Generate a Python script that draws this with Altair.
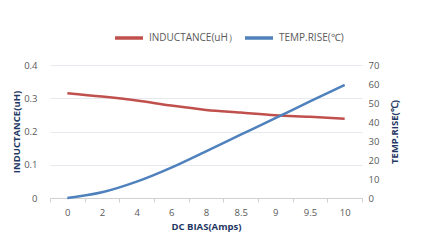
import altair as alt
import pandas as pd

bias = ["0", "2", "4", "6", "8", "8.5", "9", "9.5", "10"]
inductance = [0.315, 0.305, 0.293, 0.278, 0.265, 0.257, 0.249, 0.244, 0.238]
temp_rise = [0, 3, 8.6, 16, 24.6, 33.3, 42, 50.8, 59.5]
series = ["INDUCTANCE(uH）", "TEMP.RISE(℃)"]
colors = ["#c0504d", "#4f81bd"]

df = pd.DataFrame({"bias": bias, "ind": inductance, "temp": temp_rise})

FONT = "Open Sans"
label_color = "#595959"
title_color = "#1f3864"

color_scale = alt.Scale(domain=series, range=colors)

x_enc = alt.X(
    "bias:O",
    sort=bias,
    title="DC BIAS(Amps)",
    axis=alt.Axis(
        labelAngle=0,
        tickBand="extent",
        domainColor="#d0d0d0",
        tickColor="#d0d0d0",
        tickSize=4,
        labelPadding=5,
        labelColor=label_color,
        labelFont=FONT,
        labelFontSize=9.5,
        titleColor=title_color,
        titleFont=FONT,
        titleFontSize=9.5,
        titleFontWeight="bold",
        titlePadding=5,
        grid=False,
    ),
    scale=alt.Scale(paddingInner=0, paddingOuter=0),
)

base = alt.Chart(df)

ind_line = base.mark_line(interpolate="monotone", strokeWidth=2.5).encode(
    x=x_enc,
    y=alt.Y(
        "ind:Q",
        title="INDUCTANCE(uH)",
        scale=alt.Scale(domain=[0, 0.4]),
        axis=alt.Axis(
            values=[0, 0.1, 0.2, 0.3, 0.4],
            format="~g",
            domain=False,
            ticks=False,
            gridColor="#e6e9ed",
            labelColor=label_color,
            labelFont=FONT,
            labelFontSize=9.5,
            labelPadding=13,
            titleColor=title_color,
            titleFont=FONT,
            titleFontSize=9.5,
            titleFontWeight="bold",
            titlePadding=2,
        ),
    ),
    color=alt.Color("s:N", scale=color_scale, title=None),
).transform_calculate(s="'" + series[0] + "'")

temp_line = base.mark_line(interpolate="monotone", strokeWidth=2.5).encode(
    x=x_enc,
    y=alt.Y(
        "temp:Q",
        title="TEMP.RISE(℃)",
        scale=alt.Scale(domain=[0, 70]),
        axis=alt.Axis(
            orient="right",
            values=[0, 10, 20, 30, 40, 50, 60, 70],
            domain=False,
            ticks=False,
            grid=False,
            labelColor=label_color,
            labelFont=FONT,
            labelFontSize=9.5,
            labelPadding=6,
            titleColor=title_color,
            titleFont=FONT,
            titleFontSize=9.5,
            titleFontWeight="bold",
            titleAngle=270,
            titlePadding=21,
        ),
    ),
    color=alt.Color("s:N", scale=color_scale, title=None),
).transform_calculate(s="'" + series[1] + "'")

border = base.mark_rule(color="#dce6f1", strokeWidth=1.5).encode(
    x=alt.value(380), y=alt.value(-55), y2=alt.value(170)
)

chart = (
    alt.layer(ind_line, temp_line, border)
    .resolve_scale(y="independent")
    .properties(
        width=312,
        height=133,
        autosize=alt.AutoSizeParams(type="none"),
        padding={"left": 42, "top": 57, "right": 65, "bottom": 35},
    )
    .configure_view(stroke=None)
    .configure_legend(
        orient="none",
        legendX=63,
        legendY=-43,
        direction="horizontal",
        symbolType="stroke",
        symbolSize=784,
        symbolStrokeWidth=3.5,
        labelFont=FONT,
        labelFontSize=10,
        labelColor=label_color,
        columnPadding=0,
        labelOffset=4,
    )
)

chart.save("out.html", embed_options={"renderer": "svg", "actions": False})
